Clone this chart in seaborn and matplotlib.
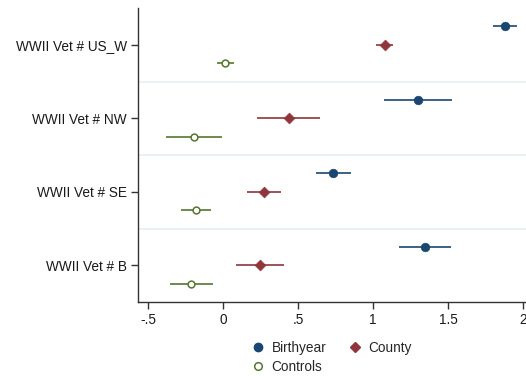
import numpy as np
import pandas as pd
import matplotlib
matplotlib.use("Agg")
import matplotlib.pyplot as plt
import seaborn as sns
from matplotlib.lines import Line2D

# coefficient rows (top to bottom)
rows = ["WWII Vet # US_W", "WWII Vet # NW", "WWII Vet # SE", "WWII Vet # B"]
series = ["Birthyear", "County", "Controls"]

birthyear_est = [1.877, 1.297, 0.735, 1.344]
birthyear_lo = [1.797, 1.075, 0.620, 1.175]
birthyear_hi = [1.960, 1.527, 0.853, 1.520]

county_est = [1.077, 0.440, 0.275, 0.247]
county_lo = [1.022, 0.227, 0.162, 0.087]
county_hi = [1.131, 0.649, 0.387, 0.404]

controls_est = [0.015, -0.196, -0.178, -0.213]
controls_lo = [-0.038, -0.380, -0.278, -0.357]
controls_hi = [0.071, -0.007, -0.078, -0.067]

xticks = [-0.5, 0, 0.5, 1, 1.5, 2]
xtick_labels = ["-.5", "0", ".5", "1", "1.5", "2"]

colors = {"Birthyear": "#1a476f", "County": "#90353b", "Controls": "#55752f"}
offsets = {"Birthyear": -0.25, "County": 0.0, "Controls": 0.25}

frames = []
for name, est, lo, hi in [("Birthyear", birthyear_est, birthyear_lo, birthyear_hi),
                          ("County", county_est, county_lo, county_hi),
                          ("Controls", controls_est, controls_lo, controls_hi)]:
    frames.append(pd.DataFrame({"row": rows, "series": name,
                                "est": est, "lo": lo, "hi": hi}))
df = pd.concat(frames, ignore_index=True)
df["ypos"] = df["row"].map({r: i for i, r in enumerate(rows)}) + df["series"].map(offsets)

sns.set_style("white")
plt.rcParams["font.family"] = ["Liberation Sans", "DejaVu Sans"]
FS = 9.8

fig = plt.figure(figsize=(5.26, 3.76), dpi=100)
ax = fig.add_axes([0.2624, 0.1968, 0.7376, 0.7819])

# separators between rows
for b in np.arange(0.5, len(rows) - 1, 1.0):
    ax.axhline(b, color="#e8eff3", lw=1.2, zorder=0)

# confidence intervals
for _, r in df.iterrows():
    ax.hlines(r["ypos"], r["lo"], r["hi"], color=colors[r["series"]], lw=1.2, zorder=2)

# point estimates
sns.scatterplot(data=df[df.series == "Birthyear"], x="est", y="ypos", ax=ax,
                color=colors["Birthyear"], marker="o", s=38, edgecolor=colors["Birthyear"],
                linewidth=0.5, zorder=3, legend=False)
sns.scatterplot(data=df[df.series == "County"], x="est", y="ypos", ax=ax,
                color=colors["County"], marker="D", s=30, edgecolor=colors["County"],
                linewidth=0.5, zorder=3, legend=False)
sns.scatterplot(data=df[df.series == "Controls"], x="est", y="ypos", ax=ax,
                facecolor="white", marker="o", s=24, edgecolor=colors["Controls"],
                linewidth=1.1, zorder=3, legend=False)

ax.set_ylim(len(rows) - 0.5, -0.5)
ax.set_xlim(-0.567, 2.02)
ax.set_yticks(range(len(rows)))
ax.set_yticklabels(rows, fontsize=FS, color="#1a1a1a")
ax.set_xticks(xticks)
ax.set_xticklabels(xtick_labels, fontsize=FS, color="#1a1a1a")
ax.set_xlabel("")
ax.set_ylabel("")
ax.tick_params(axis="both", direction="out", length=5, width=1, color="#333333",
               left=True, bottom=True, pad=3)

for side in ["top", "right"]:
    ax.spines[side].set_visible(False)
for side in ["left", "bottom"]:
    ax.spines[side].set_color("#333333")
    ax.spines[side].set_linewidth(1)

# legend filled row by row (matplotlib fills by column)
handles = {
    "Birthyear": Line2D([], [], ls="none", marker="o", ms=6, color=colors["Birthyear"]),
    "County": Line2D([], [], ls="none", marker="D", ms=5.5, color=colors["County"]),
    "Controls": Line2D([], [], ls="none", marker="o", ms=5.5, mfc="white", mew=1.1,
                       color=colors["Controls"]),
}
order = ["Birthyear", "Controls", "County"]
ax.legend([handles[k] for k in order], order, ncol=2, loc="upper center",
          bbox_to_anchor=(0.5, -0.115), frameon=False, fontsize=FS,
          handlelength=0.8, handletextpad=0.6, columnspacing=1.7,
          labelspacing=0.35, borderaxespad=0)

fig.savefig("out.png", dpi=100)
